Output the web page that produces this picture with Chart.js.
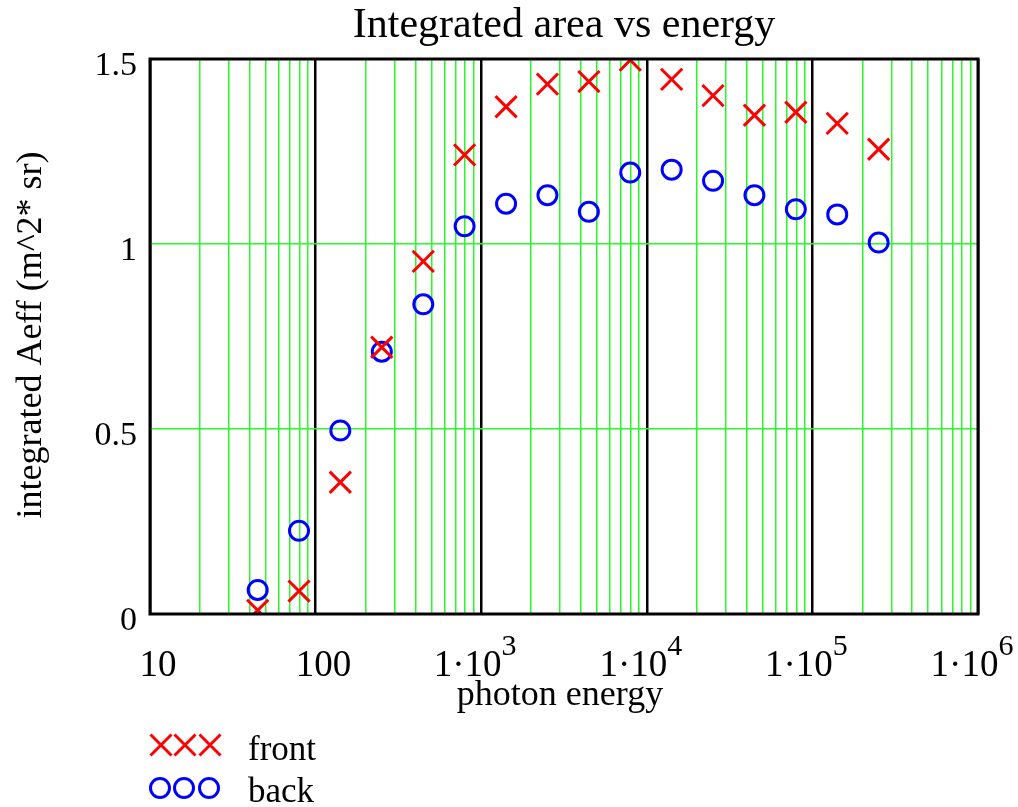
<!DOCTYPE html>
<html>
<head>
<meta charset="utf-8">
<title>Integrated area vs energy</title>
<script src="https://cdn.jsdelivr.net/npm/chart.js@4"></script>
<style>
  html, body { margin: 0; padding: 0; background: #fff; }
  canvas { display: block; }
</style>
</head>
<body>
<canvas id="chart" width="1018" height="807"></canvas>
<script>
// photon energy of each sample
const energy = [44.7, 79.4, 141, 251, 447, 794, 1413, 2512, 4467, 7943, 14125, 25119, 44668, 79433, 141254, 251189];
// integrated Aeff, m^2 sr
const front = [0.01, 0.062, 0.356, 0.721, 0.953, 1.241, 1.371, 1.432, 1.439, 1.497, 1.445, 1.401, 1.348, 1.356, 1.326, 1.256];
const back = [0.065, 0.225, 0.496, 0.709, 0.837, 1.048, 1.109, 1.132, 1.087, 1.193, 1.201, 1.171, 1.132, 1.094, 1.080, 1.004];

// decade ticks and their labels (base, exponent)
const decades = [10, 100, 1000, 10000, 100000, 1000000];
const decadeLabels = [['10', ''], ['100', ''], ['1·10', '3'], ['1·10', '4'], ['1·10', '5'], ['1·10', '6']];
const yTicks = [0, 0.5, 1, 1.5];

const seriesNames = ['front', 'back'];
const titleText = 'Integrated area vs energy';
const xTitle = 'photon energy';
const yTitle = 'integrated Aeff (m^2* sr)';

const FONT = "'Liberation Serif', 'Times New Roman', serif";
const GREEN = 'rgb(40,250,40)';

// minor ticks 1..9 inside every decade
const xTickValues = [];
decades.forEach((d, i) => {
  if (i === decades.length - 1) { xTickValues.push(d); return; }
  for (let m = 1; m <= 9; m++) xTickValues.push(d * m);
});

function isDecade(v) {
  const l = Math.log10(v);
  return Math.abs(l - Math.round(l)) < 1e-9;
}

function drawCross(ctx, x, y, r) {
  ctx.beginPath();
  ctx.moveTo(x - r, y - r); ctx.lineTo(x + r, y + r);
  ctx.moveTo(x - r, y + r); ctx.lineTo(x + r, y - r);
  ctx.stroke();
}

const decorations = {
  id: 'decorations',
  afterDatasetsDraw(chart) {
    const { ctx, chartArea: a, scales } = chart;
    ctx.save();
    // plot frame
    ctx.strokeStyle = '#000';
    ctx.lineWidth = 3;
    ctx.strokeRect(a.left, a.top, a.right - a.left, a.bottom - a.top);

    ctx.fillStyle = '#000';
    // title
    ctx.font = '42px ' + FONT;
    ctx.textAlign = 'center';
    ctx.textBaseline = 'alphabetic';
    ctx.fillText(titleText, (a.left + a.right) / 2, 37);

    // x tick labels with superscript exponents
    decades.forEach((d, i) => {
      const [base, exp] = decadeLabels[i];
      const px = scales.x.getPixelForValue(d);
      ctx.font = '37px ' + FONT;
      const wb = ctx.measureText(base).width;
      ctx.font = '30px ' + FONT;
      const we = exp ? ctx.measureText(exp).width : 0;
      const total = wb + we;
      const left = px + (exp ? -6 : 8) - total / 2;
      ctx.textAlign = 'left';
      ctx.font = '37px ' + FONT;
      ctx.fillText(base, left, 676);
      if (exp) {
        ctx.font = '30px ' + FONT;
        ctx.fillText(exp, left + wb, 655);
      }
    });

    // axis titles
    ctx.textAlign = 'center';
    ctx.font = '36px ' + FONT;
    ctx.fillText(xTitle, (a.left + a.right) / 2 - 4, 705);

    ctx.save();
    ctx.translate(41, 335);
    ctx.rotate(-Math.PI / 2);
    ctx.font = '36px ' + FONT;
    ctx.fillText(yTitle, 0, 0);
    ctx.restore();

    // legend
    ctx.lineWidth = 3;
    ctx.strokeStyle = 'red';
    [161, 185, 210].forEach(x => drawCross(ctx, x, 745, 10.5));
    ctx.strokeStyle = 'blue';
    [160, 184, 209].forEach(x => {
      ctx.beginPath();
      ctx.arc(x, 788, 9.5, 0, Math.PI * 2);
      ctx.stroke();
    });
    ctx.textAlign = 'left';
    ctx.font = '35px ' + FONT;
    ctx.fillText(seriesNames[0], 248, 760);
    ctx.fillText(seriesNames[1], 248, 802);
    ctx.restore();
  }
};

new Chart(document.getElementById('chart'), {
  type: 'scatter',
  data: {
    datasets: [
      {
        label: seriesNames[0],
        data: energy.map((e, i) => ({ x: e, y: front[i] })),
        pointStyle: 'crossRot',
        radius: 15,
        borderColor: 'red',
        borderWidth: 3,
        backgroundColor: 'transparent',
        clip: 0
      },
      {
        label: seriesNames[1],
        data: energy.map((e, i) => ({ x: e, y: back[i] })),
        pointStyle: 'circle',
        radius: 9.5,
        borderColor: 'blue',
        borderWidth: 3,
        backgroundColor: 'transparent',
        clip: 0
      }
    ]
  },
  options: {
    responsive: false,
    animation: false,
    events: [],
    layout: { padding: { top: 59, right: 40, left: 0, bottom: 0 } },
    plugins: {
      legend: { display: false },
      title: { display: false },
      tooltip: { enabled: false }
    },
    scales: {
      x: {
        type: 'logarithmic',
        min: 10,
        max: 1000000,
        afterBuildTicks: s => { s.ticks = xTickValues.map(v => ({ value: v })); },
        afterFit: s => { s.height = 193; },
        ticks: { display: false, autoSkip: false },
        border: { display: false },
        grid: {
          drawTicks: false,
          color: c => (c.tick && isDecade(c.tick.value)) ? '#000' : GREEN,
          lineWidth: c => (c.tick && isDecade(c.tick.value)) ? 2.5 : 1.5
        }
      },
      y: {
        min: 0,
        max: 1.5,
        afterBuildTicks: s => { s.ticks = yTicks.map(v => ({ value: v })); },
        afterFit: s => { s.width = 150; },
        border: { display: false },
        ticks: {
          color: '#000',
          padding: 13,
          labelOffset: 7,
          font: { family: FONT, size: 34 },
          callback: v => String(v)
        },
        grid: {
          drawTicks: false,
          color: GREEN,
          lineWidth: 1.5
        }
      }
    }
  },
  plugins: [decorations]
});
</script>
</body>
</html>
